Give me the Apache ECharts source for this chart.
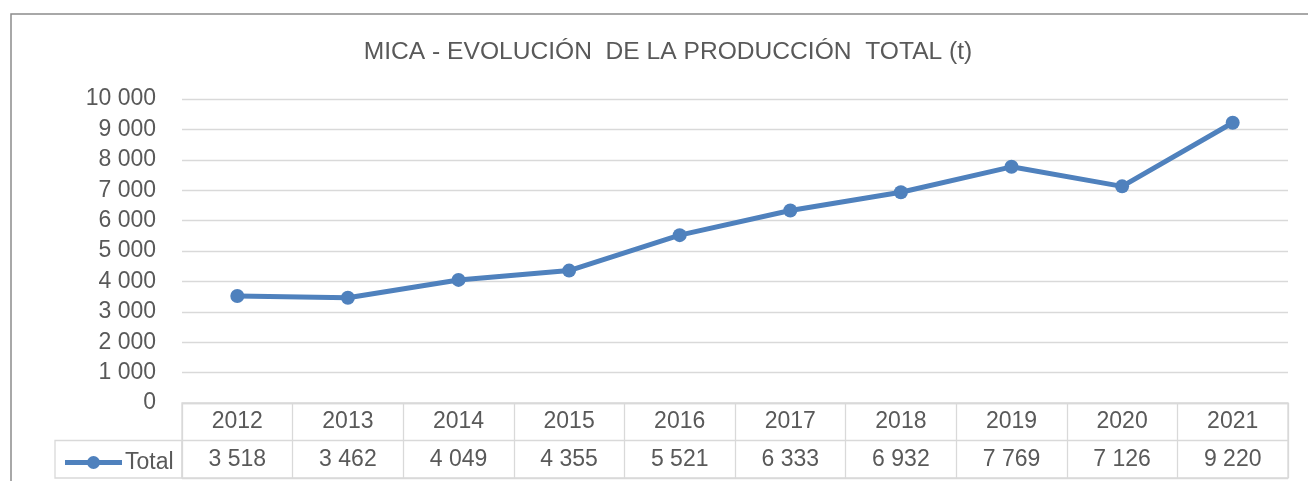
<!DOCTYPE html>
<html>
<head>
<meta charset="utf-8">
<script src="https://cdn.jsdelivr.net/npm/echarts@6/dist/echarts.min.js"></script>
<style>
  html, body { margin: 0; padding: 0; background: #fff; }
  #main { width: 1308px; height: 481px; }
</style>
</head>
<body>
<div id="main"></div>
<script>
var years = ['2012', '2013', '2014', '2015', '2016', '2017', '2018', '2019', '2020', '2021'];
var totals = [3518, 3462, 4049, 4355, 5521, 6333, 6932, 7769, 7126, 9220];
var seriesName = 'Total';
var titleText = 'MICA - EVOLUCIÓN  DE LA PRODUCCIÓN  TOTAL (t)';

// miles con espacio: 10 000
function fmt(v) {
    return String(v).replace(/\B(?=(\d{3})+(?!\d))/g, ' ');
}

var font = 'Liberation Sans';
var txt = '#595959';
var gridCol = '#d9d9d9';
var blue = '#4f81bd';

// icono de leyenda: línea gruesa con punto en el centro (caja 57x13)
var legendIcon = 'path://M0,4 H57 V9 H0 Z M22,6.5 A6.5,6.5 0 1 1 35,6.5 A6.5,6.5 0 1 1 22,6.5 Z';

var myChart = echarts.init(document.getElementById('main'));
var option = {
    animation: false,
    backgroundColor: '#fff',
    textStyle: { fontFamily: font },
    title: {
        text: titleText,
        left: 663,
        textAlign: 'center',
        top: 35,
        textStyle: { fontFamily: font, fontSize: 24.6, fontWeight: 'normal', color: txt }
    },
    legend: {
        left: 60,
        top: 446,
        itemWidth: 57,
        itemHeight: 13,
        icon: legendIcon,
        itemStyle: { color: blue },
        textStyle: { fontFamily: font, fontSize: 23, color: txt, padding: [0, 0, 0, -2] },
        data: [seriesName]
    },
    graphic: [{
        // marco exterior
        type: 'rect',
        shape: { x: 11, y: 14, width: 1400, height: 600 },
        style: { fill: null, stroke: '#8c8c8c', lineWidth: 1.5 },
        silent: true
    }, {
        // celda de la leyenda
        type: 'rect',
        shape: { x: 55, y: 440.5, width: 127, height: 37.5 },
        style: { fill: null, stroke: gridCol, lineWidth: 1.3 },
        silent: true
    }],
    grid: [{
        left: 182, right: 20, top: 99, bottom: 78
    }, {
        left: 182, right: 20, top: 403, bottom: 3,
        show: true, borderColor: gridCol, borderWidth: 1.3, backgroundColor: 'transparent'
    }],
    xAxis: [{
        type: 'category',
        gridIndex: 0,
        data: years,
        boundaryGap: true,
        axisLine: { show: false },
        axisTick: { show: false },
        axisLabel: { margin: 7, fontFamily: font, fontSize: 23, color: txt }
    }, {
        type: 'category',
        gridIndex: 1,
        data: totals.map(fmt),
        boundaryGap: true,
        axisLine: { show: false },
        axisTick: { show: false },
        splitLine: { show: true, lineStyle: { color: gridCol, width: 1.3 } },
        axisLabel: { inside: true, margin: 7, fontFamily: font, fontSize: 23, color: txt }
    }],
    yAxis: [{
        type: 'value',
        gridIndex: 0,
        min: 0,
        max: 10000,
        interval: 1000,
        axisLine: { show: false },
        axisTick: { show: false },
        splitLine: { lineStyle: { color: gridCol, width: 1.3 } },
        axisLabel: {
            margin: 26,
            fontFamily: font, fontSize: 23, color: txt,
            formatter: function (v) { return fmt(v); }
        }
    }, {
        type: 'value',
        gridIndex: 1,
        min: 0,
        max: 2,
        interval: 1,
        axisLine: { show: false },
        axisTick: { show: false },
        axisLabel: { show: false },
        splitLine: { show: true, lineStyle: { color: gridCol, width: 1.3 } }
    }],
    series: [{
        name: seriesName,
        type: 'line',
        xAxisIndex: 0,
        yAxisIndex: 0,
        data: totals,
        color: blue,
        symbol: 'circle',
        symbolSize: 14,
        lineStyle: { width: 5, color: blue },
        itemStyle: { color: blue }
    }]
};

myChart.setOption(option);
</script>
</body>
</html>
